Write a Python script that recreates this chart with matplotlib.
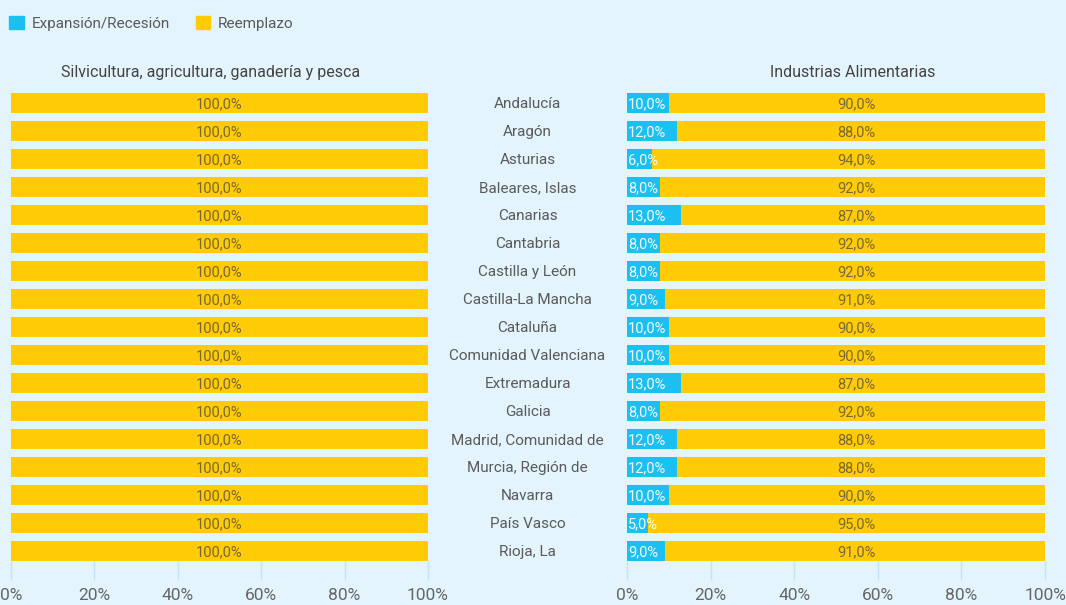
import matplotlib.pyplot as plt
import matplotlib.transforms as mtransforms
from matplotlib.patches import Patch
import numpy as np

plt.rcParams['font.family'] = ['Roboto', 'DejaVu Sans']

# Datos
regiones = ['Andalucía', 'Aragón', 'Asturias', 'Baleares, Islas', 'Canarias',
            'Cantabria', 'Castilla y León', 'Castilla-La Mancha', 'Cataluña',
            'Comunidad Valenciana', 'Extremadura', 'Galicia',
            'Madrid, Comunidad de', 'Murcia, Región de', 'Navarra',
            'País Vasco', 'Rioja, La']
agri_expansion = [0] * 17
agri_reemplazo = [100] * 17
ind_expansion = [10, 12, 6, 8, 13, 8, 8, 9, 10, 10, 13, 8, 12, 12, 10, 5, 9]
ind_reemplazo = [90, 88, 94, 92, 87, 92, 92, 91, 90, 90, 87, 92, 88, 88, 90, 95, 91]
titulos = ['Silvicultura, agricultura, ganadería y pesca', 'Industrias Alimentarias']
ticks = [0, 20, 40, 60, 80, 100]

BG = '#E3F4FC'
AZUL = '#1CC0F0'
AMARILLO = '#FFCB05'
GRIS = '#5A5A5A'

fig = plt.figure(figsize=(10.66, 6.05), dpi=100, facecolor=BG)
y = np.arange(len(regiones))

ax_l = fig.add_axes([11 / 1066, 0.0413, 417 / 1066, 0.8116])
ax_r = fig.add_axes([627 / 1066, 0.0413, 418 / 1066, 0.8116])


def dibujar(ax, exp, rem, titulo, xt):
    ax.set_facecolor(BG)
    exp = np.array(exp)
    rem = np.array(rem)
    ax.barh(y, exp, height=0.714, color=AZUL)
    ax.barh(y, rem, left=exp, height=0.714, color=AMARILLO)
    # posición de las etiquetas amarillas
    xc = (exp.mean() + 100) / 2
    for i in range(len(y)):
        if exp[i] > 0:
            ax.text(0.3, y[i] + 0.04, f'{exp[i]:.1f}%'.replace('.', ','), ha='left',
                    va='center', color='#F2FAFE', fontsize=10.5)
        ax.text(xc, y[i] + 0.04, f'{rem[i]:.1f}%'.replace('.', ','), ha='center',
                va='center', color='#75693A', fontsize=10.5)
    ax.set_xlim(0, 100)
    ax.set_ylim(len(y) - 1 + 1.036, -0.5)
    ax.set_yticks([])
    ax.set_xticks(ticks)
    ax.set_xticklabels([f'{t}%' for t in ticks])
    ax.tick_params(axis='x', direction='in', length=13.7, width=1,
                   color='#C2E4F5', labelsize=12.5, labelcolor='#666666', pad=6)
    for s in ax.spines.values():
        s.set_visible(False)
    ax.text(xt, 1.033, titulo, transform=ax.transAxes, ha='center',
            va='center', fontsize=11.5, color='#444444')


dibujar(ax_l, agri_expansion, agri_reemplazo, titulos[0], 0.478)
dibujar(ax_r, ind_expansion, ind_reemplazo, titulos[1], 0.541)

trans = mtransforms.blended_transform_factory(fig.transFigure, ax_l.transData)
for i, r in enumerate(regiones):
    ax_l.text(527.5 / 1066, i + 0.04, r, transform=trans, ha='center', va='center',
              fontsize=11, color=GRIS, clip_on=False)

handles = [Patch(color=AZUL), Patch(color=AMARILLO)]
fig.legend(handles, ['Expansión/Recesión', 'Reemplazo'], loc='upper left',
           bbox_to_anchor=(-0.004, 0.996), ncol=2, frameon=False, fontsize=11,
           handlelength=0.95, handleheight=0.95, handletextpad=0.5,
           columnspacing=1.7, labelcolor=GRIS)

fig.savefig('out.png', dpi=100, facecolor=BG)
